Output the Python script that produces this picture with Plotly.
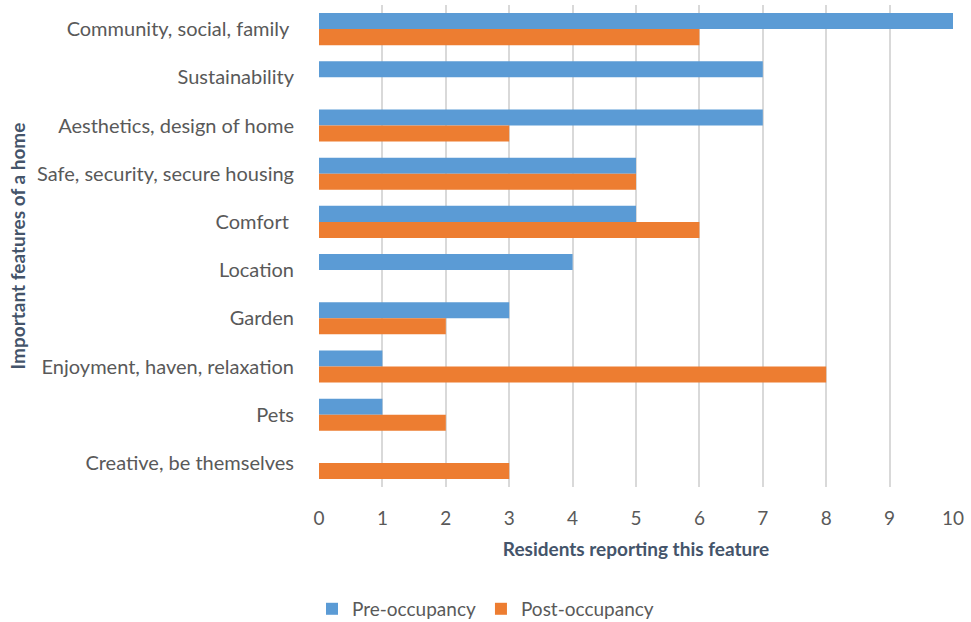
import plotly.graph_objects as go

# Features residents named as important in a home
features = [
    "Community, social, family ",
    "Sustainability",
    "Aesthetics, design of home",
    "Safe, security, secure housing",
    "Comfort ",
    "Location",
    "Garden",
    "Enjoyment, haven, relaxation",
    "Pets",
    "Creative, be themselves",
]
pre_occupancy = [10, 7, 7, 5, 5, 4, 3, 1, 1, 0]
post_occupancy = [6, 0, 3, 5, 6, 0, 2, 8, 2, 3]
x_ticks = list(range(0, 11))

FONT = "Lato, 'Open Sans', sans-serif"
TEXT = "#595959"
TITLE = "#44546A"

fig = go.Figure()
fig.add_trace(go.Bar(
    name="Pre-occupancy", y=features, x=pre_occupancy, orientation="h",
    marker=dict(color="#5B9BD5", line=dict(width=0)),
))
fig.add_trace(go.Bar(
    name="Post-occupancy", y=features, x=post_occupancy, orientation="h",
    marker=dict(color="#ED7D31", line=dict(width=0)),
))

fig.update_layout(
    width=971, height=622,
    margin=dict(l=319, r=18, t=5, b=135),
    paper_bgcolor="white", plot_bgcolor="white",
    barmode="group", bargap=0.335, bargroupgap=0,
    font=dict(family=FONT, size=19, color=TEXT),
    legend=dict(
        orientation="h", xref="container", x=0.50, xanchor="center",
        yref="container", y=0.021, yanchor="middle",
        font=dict(size=19, color=TEXT), itemwidth=30, traceorder="normal",
    ),
    xaxis=dict(
        range=[0, 10], tickvals=x_ticks, showgrid=True, gridcolor="#D9D9D9",
        gridwidth=1.5, zeroline=False, showline=False,
        ticks="outside", ticklen=14, tickcolor="rgba(0,0,0,0)",
        tickfont=dict(size=19, color=TEXT),
        title=dict(text="<b>Residents reporting this feature</b>",
                   font=dict(size=19, color=TITLE), standoff=14),
    ),
    yaxis=dict(
        autorange="reversed", showgrid=False, zeroline=False, showline=False,
        ticks="outside", ticklen=20, tickcolor="rgba(0,0,0,0)",
        tickfont=dict(size=20, color=TEXT),
        title=dict(text="<b>Important features of a home</b>",
                   font=dict(size=19, color=TITLE), standoff=6),
    ),
)

fig.write_html("out.html")
